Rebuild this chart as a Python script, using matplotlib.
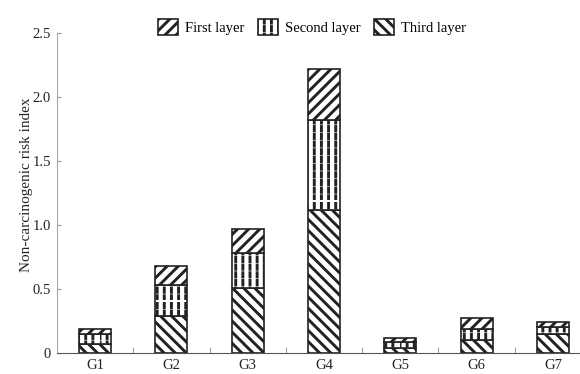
import numpy as np
import matplotlib
matplotlib.use('Agg')
import matplotlib.pyplot as plt
from matplotlib import hatch as mhatch
from matplotlib.path import Path

groups = ['G1', 'G2', 'G3', 'G4', 'G5', 'G6', 'G7']
third_layer = [0.068, 0.29, 0.505, 1.115, 0.04, 0.105, 0.145]
second_layer = [0.078, 0.24, 0.275, 0.705, 0.045, 0.085, 0.055]
first_layer = [0.039, 0.152, 0.19, 0.40, 0.035, 0.08, 0.045]
yticks = [0, 0.5, 1.0, 1.5, 2.0, 2.5]
ytick_labels = ['0', '0.5', '1.0', '1.5', '2.0', '2.5']


# '|' hatch drawn as columns of short dashes instead of solid lines
class DashedVerticalHatch(mhatch.HatchPatternBase):
    def __init__(self, hatch, density):
        self.num_lines = hatch.count('|') * 7
        self.num_dashes = 13
        self.num_vertices = self.num_lines * self.num_dashes * 2

    def set_vertices_and_codes(self, vertices, codes):
        xs = np.linspace(0.0, 1.0, self.num_lines, False)
        ys = np.linspace(0.0, 1.0, self.num_dashes, False)
        dash = 0.55 / self.num_dashes
        xx, yy = np.meshgrid(xs, ys)
        xx = xx.ravel()
        yy = yy.ravel()
        vertices[0::2, 0] = xx
        vertices[0::2, 1] = yy
        vertices[1::2, 0] = xx
        vertices[1::2, 1] = yy + dash
        codes[0::2] = Path.MOVETO
        codes[1::2] = Path.LINETO


mhatch._hatch_types = [DashedVerticalHatch if h is mhatch.VerticalHatch else h
                       for h in mhatch._hatch_types]

plt.rcParams['font.family'] = 'Liberation Serif'
plt.rcParams['hatch.linewidth'] = 2.1
plt.rcParams['hatch.color'] = 'black'

fig = plt.figure(figsize=(5.8, 3.74), dpi=100)
ax = fig.add_axes([57 / 580, 21 / 374, 534 / 580, 320 / 374])

x = np.arange(len(groups))
w = 0.42
edge = '#222222'
third = np.array(third_layer)
second = np.array(second_layer)
first = np.array(first_layer)

b3 = ax.bar(x, third, w, color='white', edgecolor=edge, linewidth=1.2, hatch='\\\\\\')
b2 = ax.bar(x, second, w, bottom=third, color='white', edgecolor=edge, linewidth=1.2, hatch='||')
b1 = ax.bar(x, first, w, bottom=third + second, color='white', edgecolor=edge, linewidth=1.2, hatch='///')

ax.set_xlim(-0.5, len(groups) - 0.5)
ax.set_ylim(0, 2.5)
ax.set_yticks(yticks)
ax.set_yticklabels(ytick_labels)
ax.set_xticks(x)
ax.set_xticklabels(groups)
ax.set_xticks(np.arange(len(groups) + 1) - 0.5, minor=True)
ax.tick_params(axis='x', which='major', length=0, pad=4, labelsize=10.5, labelcolor='#222222')
ax.tick_params(axis='x', which='minor', direction='in', length=4, color='#888888')
ax.tick_params(axis='y', direction='in', length=3, color='#999999', labelsize=10.5,
               labelcolor='#222222', pad=4.5)

ax.spines['top'].set_visible(False)
ax.spines['right'].set_visible(False)
ax.spines['left'].set_color('#aaaaaa')
ax.spines['bottom'].set_color('#555555')
ax.set_ylabel('Non-carcinogenic risk index', fontsize=11, color='#222222')
ax.yaxis.set_label_coords(-0.045, 0.525)

fig.legend([b1, b2, b3], ['First layer', 'Second layer', 'Third layer'],
           loc='center', bbox_to_anchor=(312 / 580, 1 - 27 / 374), ncol=3,
           frameon=False, fontsize=10.5, handlelength=1.37, handleheight=1.24,
           handletextpad=0.5, columnspacing=0.9)

fig.savefig('out.png', dpi=100)
